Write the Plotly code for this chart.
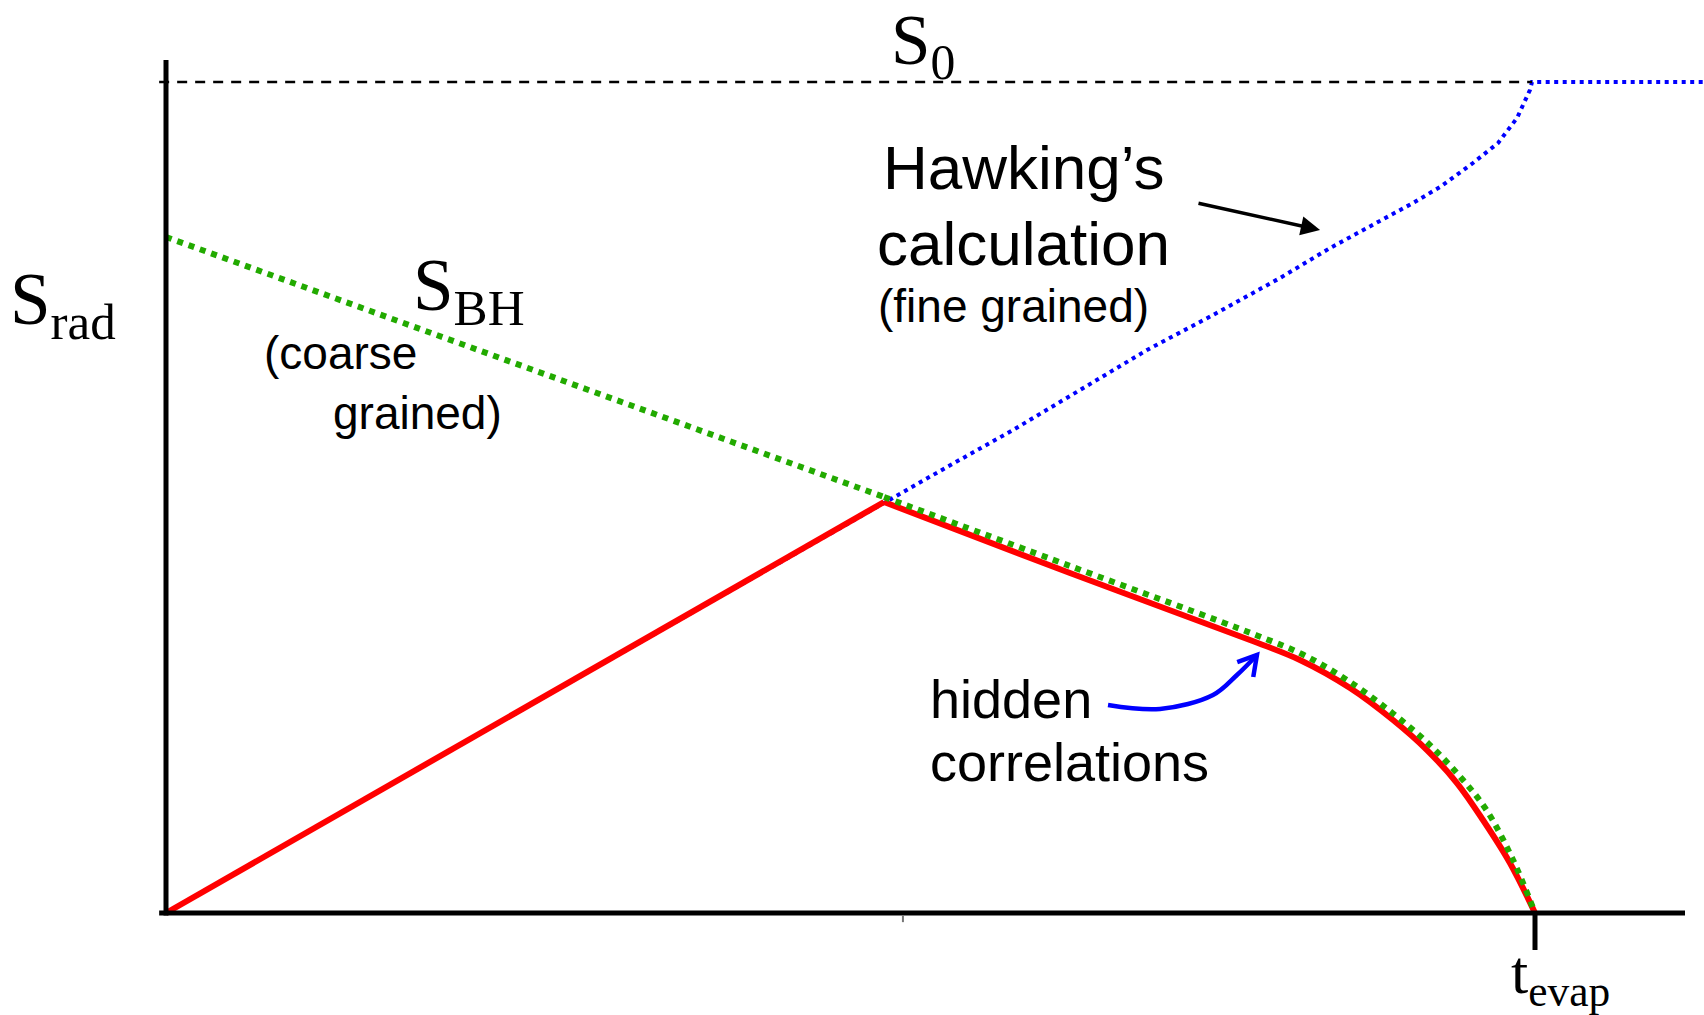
import plotly.graph_objects as go

# ---------------- data (t in units of t_evap, S in units of S0) ----------------
t_page = [0.0, 0.5245, 0.6603, 0.7918, 0.8283, 0.8649, 0.8963, 0.9211, 0.9430, 0.9620, 0.9817, 1.0]
s_page = [0.0, 0.4946, 0.4091, 0.3285, 0.3045, 0.2708, 0.2323, 0.1961, 0.1564, 0.1119, 0.0602, 0.0]

t_bh = [0.0, 0.5245, 0.6603, 0.7969, 0.8305, 0.8627, 0.8963, 0.9233, 0.9474, 0.9649, 0.9839, 1.0]
s_bh = [0.8135, 0.5006, 0.4176, 0.3340, 0.3110, 0.2804, 0.2400, 0.2020, 0.1600, 0.1230, 0.0640, 0.0]

t_hawk = [0.0, 0.5245, 0.5705, 0.6187, 0.6676, 0.7166, 0.7648, 0.8137, 0.8503, 0.8744, 0.8919,
          0.9109, 0.9306, 0.9547, 0.9730, 0.9869, 0.9963, 0.9978, 1.125]
s_hawk = [0.0, 0.4946, 0.5367, 0.5812, 0.6294, 0.6775, 0.7196, 0.7641, 0.8002, 0.8219, 0.8375,
          0.8544, 0.8736, 0.9025, 0.9266, 0.9567, 0.9904, 1.0, 1.0]

PEAK = 1          # index of the Page time in the arrays above
S0 = 1.0
T_EVAP = 1.0
t_s0_line = [-0.005, 0.9978]

# curved "hidden correlations" pointer (annotation graphics)
t_hid_arrow = [0.6881, 0.7261, 0.7648, 0.7823, 0.7969]
s_hid_arrow = [0.2503, 0.2455, 0.2623, 0.2864, 0.3105]
t_hid_head = [0.7825, 0.7969, 0.7942]
s_hid_head = [0.3020, 0.3105, 0.2840]

# ---------------- layout constants (pixels) ----------------
W, H = 1704, 1015
X0_PX, Y0_PX = 166, 913      # origin
PX_PER_T = 1369              # pixels per t_evap
PX_PER_S = 831               # pixels per S0

def px2paper(px, py):
    return px / W, 1 - py / H

xr = [(0 - X0_PX) / PX_PER_T, (W - X0_PX) / PX_PER_T]
yr = [(Y0_PX - H) / PX_PER_S, Y0_PX / PX_PER_S]

SERIF = "Liberation Serif, Times New Roman, serif"
SANS = "Liberation Sans, Arial, sans-serif"

BLUE = "#0000ff"
RED = "#ff0000"
GREEN = "#22aa00"

fig = go.Figure()

def line(x, y, color, width, dash="solid", shape="linear", smoothing=1.0):
    fig.add_trace(go.Scatter(x=x, y=y, mode="lines", hoverinfo="skip",
                             line=dict(color=color, width=width, dash=dash,
                                       shape=shape, smoothing=smoothing)))

# Hawking (fine grained) - blue dotted
line(t_hawk, s_hawk, BLUE, 4, "4px,4.5px")
# Page curve - red solid (straight rise, smooth fall)
line(t_page[:PEAK + 1], s_page[:PEAK + 1], RED, 6)
line(t_page[PEAK:], s_page[PEAK:], RED, 6, shape="spline", smoothing=1.0)
# S_BH - green dotted
line(t_bh[:PEAK + 1], s_bh[:PEAK + 1], GREEN, 6, "6px,6px")
line(t_bh[PEAK:], s_bh[PEAK:], GREEN, 6, "6px,6px", shape="spline", smoothing=1.0)
# S0 dashed line
line(t_s0_line, [S0, S0], "black", 2.5, "10px,8px")
# hidden-correlations curved arrow
line(t_hid_arrow, s_hid_arrow, BLUE, 4.5, shape="spline")
line(t_hid_head, s_hid_head, BLUE, 4.5)

# axes as lines
x_axis_end = (1685 - X0_PX) / PX_PER_T
y_axis_top = (Y0_PX - 60) / PX_PER_S
shapes = [
    dict(type="line", xref="x", yref="y", x0=-0.005, x1=x_axis_end, y0=0, y1=0,
         line=dict(color="black", width=5)),
    dict(type="line", xref="x", yref="y", x0=0, x1=0, y0=-0.003, y1=y_axis_top,
         line=dict(color="black", width=5)),
    dict(type="line", xref="x", yref="y", x0=T_EVAP, x1=T_EVAP, y0=0, y1=-0.0445,
         line=dict(color="black", width=5)),
    dict(type="line", xref="x", yref="y", x0=0.5383, x1=0.5383, y0=-0.003, y1=-0.011,
         line=dict(color="#777777", width=2)),
]

annotations = []

def label(text, px, py, size, font, xanchor="left"):
    x, y = px2paper(px, py)
    annotations.append(dict(text=text, x=x, y=y, xref="paper", yref="paper",
                            xanchor=xanchor, yanchor="middle", showarrow=False,
                            font=dict(family=font, size=size, color="black")))

label("S<sub>rad</sub>", 8, 305, 73, SERIF)
label("S<sub>BH</sub>", 411, 290, 73, SERIF)
label("S<sub>0</sub>", 889, 45, 71, SERIF)
label("t<sub>evap</sub>", 1509, 976, 62, SERIF)
label("(coarse", 262, 353, 46, SANS)
label("grained)", 331, 413, 46, SANS)
label("Hawking’s", 1023, 167, 62, SANS, "center")
label("calculation", 1023, 244, 62, SANS, "center")
label("(fine grained)", 1013, 306, 46, SANS, "center")
label("hidden", 928, 699, 54, SANS)
label("correlations", 928, 762, 54, SANS)

# Hawking's arrow
annotations.append(dict(x=0.8430, y=0.8219, ax=0.7531, ay=0.8544, xref="x", yref="y",
                        axref="x", ayref="y", text="", showarrow=True,
                        arrowhead=2, arrowsize=1.1, arrowwidth=3.5, arrowcolor="black"))

fig.update_layout(
    width=W, height=H,
    margin=dict(l=0, r=0, t=0, b=0),
    paper_bgcolor="white", plot_bgcolor="white",
    showlegend=False,
    xaxis=dict(range=xr, visible=False, fixedrange=True),
    yaxis=dict(range=yr, visible=False, fixedrange=True),
    shapes=shapes, annotations=annotations,
)

fig.write_html("out.html", config={"displayModeBar": False},
               post_script="document.body.style.margin='0px';document.body.style.overflow='hidden';")
